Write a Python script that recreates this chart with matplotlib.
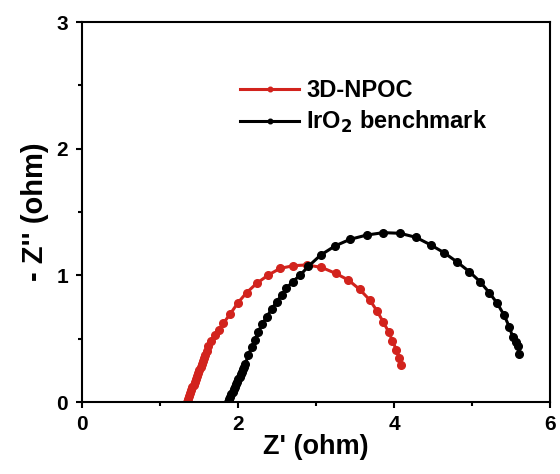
import matplotlib.pyplot as plt
import numpy as np

plt.rcParams['font.family'] = 'Liberation Sans'
plt.rcParams['font.weight'] = 'bold'
plt.rcParams['mathtext.default'] = 'bf'

# Nyquist data, Z' and -Z'' in ohm
npoc_re = [1.34, 1.355, 1.37, 1.385, 1.40, 1.415, 1.43, 1.445, 1.46, 1.475, 1.49, 1.505,
           1.52, 1.535, 1.55, 1.565, 1.58, 1.60, 1.62, 1.66, 1.705, 1.75, 1.81, 1.90,
           2.00, 2.11, 2.24, 2.39, 2.54, 2.71, 2.88, 3.07, 3.25, 3.415, 3.56, 3.69,
           3.78, 3.86, 3.93, 3.98, 4.03, 4.07, 4.085]
npoc_im = [0.0, 0.023, 0.046, 0.069, 0.092, 0.115, 0.138, 0.161, 0.184, 0.207, 0.23, 0.253,
           0.276, 0.299, 0.322, 0.345, 0.368, 0.40, 0.44, 0.48, 0.53, 0.57, 0.62, 0.695,
           0.784, 0.863, 0.937, 1.003, 1.055, 1.076, 1.082, 1.063, 1.016, 0.963, 0.889, 0.805,
           0.721, 0.634, 0.555, 0.484, 0.411, 0.345, 0.292]

iro2_re = [1.87, 1.885, 1.90, 1.915, 1.93, 1.945, 1.96, 1.975, 1.99, 2.005, 2.02, 2.035,
           2.05, 2.065, 2.08, 2.095, 2.13, 2.176, 2.218, 2.26, 2.31, 2.37, 2.43, 2.496,
           2.56, 2.62, 2.70, 2.795, 2.90, 3.06, 3.244, 3.436, 3.65, 3.863, 4.077, 4.282,
           4.474, 4.641, 4.803, 4.966, 5.103, 5.222, 5.324, 5.41, 5.478, 5.52, 5.56,
           5.59, 5.607]
iro2_im = [0.0, 0.02, 0.04, 0.06, 0.08, 0.10, 0.12, 0.14, 0.16, 0.18, 0.20, 0.22,
           0.24, 0.26, 0.28, 0.30, 0.37, 0.432, 0.49, 0.555, 0.616, 0.674, 0.732, 0.792,
           0.845, 0.897, 0.95, 1.00, 1.07, 1.16, 1.232, 1.284, 1.318, 1.337, 1.332, 1.300,
           1.239, 1.179, 1.108, 1.029, 0.950, 0.863, 0.779, 0.687, 0.594, 0.516, 0.476,
           0.44, 0.379]

fig = plt.figure(figsize=(5.6, 4.74), dpi=100)
ax = fig.add_axes([82/560, 1 - 402/474, 468/560, 380/474])

ax.plot(npoc_re, npoc_im, color='#d2231d', lw=2.2, marker='o', ms=5.5, label='3D-NPOC')
ax.plot(iro2_re, iro2_im, color='black', lw=2.2, marker='o', ms=5.5,
        label=r'IrO$_\mathbf{2}$ benchmark')

ax.set_xlim(0, 6)
ax.set_ylim(0, 3)
ax.set_xticks([0, 2, 4, 6])
ax.set_yticks([0, 1, 2, 3])
ax.set_xticks([1, 3, 5], minor=True)
ax.set_yticks([0.5, 1.5, 2.5], minor=True)
ax.tick_params(which='major', direction='out', length=4, width=1.5, labelsize=15)
ax.tick_params(axis='x', which='major', pad=5)
ax.tick_params(axis='y', which='major', pad=6)
ax.tick_params(which='minor', direction='out', length=3, width=1.5)
for s in ax.spines.values():
    s.set_linewidth(1.5)

ax.set_xlabel("Z' (ohm)", fontsize=19.5, fontweight='bold', labelpad=0)
ax.set_ylabel("- Z'' (ohm)", fontsize=21, fontweight='bold', labelpad=5)

leg = ax.legend(loc='upper left', bbox_to_anchor=(0.338, 0.85), frameon=False,
                fontsize=17, handlelength=2.5, handletextpad=0.3, labelspacing=0.3,
                borderpad=0, borderaxespad=0, markerscale=0.6)
for t in leg.get_texts():
    t.set_fontweight('bold')

fig.savefig('out.png', dpi=100)
